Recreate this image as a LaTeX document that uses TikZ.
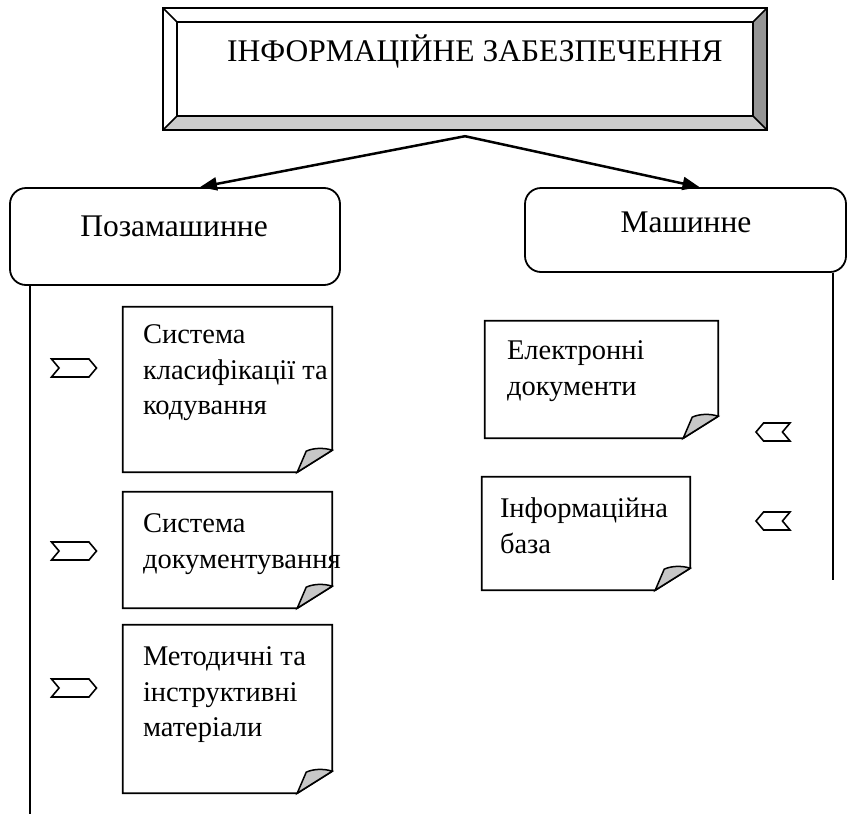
\documentclass[tikz,border=0pt]{standalone}
\usepackage{fontspec}
\setmainfont{Liberation Serif}
\usetikzlibrary{calc,arrows.meta,shapes.symbols}

\tikzset{
  bevelline/.style={line width=1.5pt},
  roundbox/.style={draw, line width=1.8pt, rounded corners=16pt, inner sep=0pt},
  lbl/.style={font=\fontsize{31.5}{36}\selectfont, inner sep=0pt},
  notepage/.style={inner sep=0pt, draw=none},
  noteline/.style={line width=1.8pt, line join=miter},
  foldpart/.style={line width=1.5pt, fill=black!22},
  notetext/.style={font=\fontsize{28.5}{35.5}\selectfont, align=left, inner sep=0pt, anchor=north west},
  branch/.style={line width=2.5pt, -{Triangle[length=17pt,width=13pt]}},
  rail/.style={line width=1.8pt},
  chevron/.style={draw, line width=1.6pt, signal, inner sep=0pt, signal pointer angle=100},
  chevR/.style={chevron, signal to=east, signal from=west, minimum width=45pt, minimum height=18pt},
  chevL/.style={chevron, signal to=west, signal from=east, minimum width=34pt, minimum height=18pt},
}

% sheet of paper with a curled lower right corner
\newcommand\notepaper[5]{%
  \pgfmathsetmacro\npw{#4-#2}\pgfmathsetmacro\nph{#5-#3}%
  \node[notepage, minimum width=\npw pt, minimum height=\nph pt] (#1) at ({(#2+#4)/2},{(#3+#5)/2}) {};
  \draw[noteline] (#1.north west) -- (#1.north east) -- ($(#1.south east)+(0,-22)$)
     -- ($(#1.south east)+(-35,0)$) -- (#1.south west) -- cycle;
  \draw[foldpart] ($(#1.south east)+(0,-22)$)
     .. controls ($(#1.south east)+(-9,-25)$) and ($(#1.south east)+(-20,-24)$) .. ($(#1.south east)+(-26,-21)$)
     -- ($(#1.south east)+(-35,0)$) -- cycle;
}

\begin{document}
\begin{tikzpicture}[x=1pt,y=-1pt]
\useasboundingbox (0,0) rectangle (848,814);

% bevelled title plate
\fill[white] (163,8) rectangle (767,130);
\fill[black!20] (163,130) -- (177,116) -- (753,116) -- (767,130) -- cycle;
\fill[black!42] (767,8) -- (753,22) -- (753,116) -- (767,130) -- cycle;
\draw[bevelline] (163,8) rectangle (767,130);
\draw[bevelline] (177,22) rectangle (753,116);
\draw[bevelline] (163,8) -- (177,22) (767,8) -- (753,22)
                 (163,130) -- (177,116) (767,130) -- (753,116);
\node[notepage, minimum width=604pt, minimum height=122pt] (head) at (465,69) {};
\node[lbl] (headtxt) at (475,52) {ІНФОРМАЦІЙНЕ ЗАБЕЗПЕЧЕННЯ};

% the two branches
\node[roundbox, minimum width=330pt, minimum height=97pt] (off) at (175,236.5) {};
\node[lbl] (offtxt) at (174,226) {Позамашинне};
\node[roundbox, minimum width=321pt, minimum height=84pt] (mach) at (685.5,230) {};
\node[lbl] (machtxt) at (686,222) {Машинне};

\coordinate (split) at ($(head.south)+(0,6)$);
\draw[branch] (split) -- ($(off.north)+(25,0)$);
\draw[branch] (split) -- ($(mach.north)+(14,0)$);

% vertical rails
\coordinate (offend) at (30,814);
\coordinate (machend) at (833,580);
\draw[rail] (off.south west -| offend) -- (offend);
\draw[rail] (mach.south east -| machend) -- (machend);

% documents of the off-machine part
\notepaper{p1}{123}{307}{332}{472}
\node[notetext] (p1t) at ($(p1.north west)+(20,18)$) {Система\\класифікації та\\кодування};
\notepaper{p2}{123}{492}{332}{608}
\node[notetext] (p2t) at ($(p2.north west)+(20,22)$) {Система\\документування};
\notepaper{p3}{123}{625}{332}{793}
\node[notetext] (p3t) at ($(p3.north west)+(20,22)$) {Методичні та\\інструктивні\\матеріали};

% documents of the machine part
\notepaper{m1}{485}{321}{718}{438}
\node[notetext] (m1t) at ($(m1.north west)+(22,20)$) {Електронні\\документи};
\notepaper{m2}{482}{477}{690}{590}
\node[notetext] (m2t) at ($(m2.north west)+(18,21)$) {Інформаційна\\база};

% pointers
\node[chevR] (a1) at (74,368) {};
\node[chevR] (a2) at (74,551) {};
\node[chevR] (a3) at (74,688) {};
\node[chevL] (b1) at (773,432) {};
\node[chevL] (b2) at (773,521) {};
\end{tikzpicture}
\end{document}
